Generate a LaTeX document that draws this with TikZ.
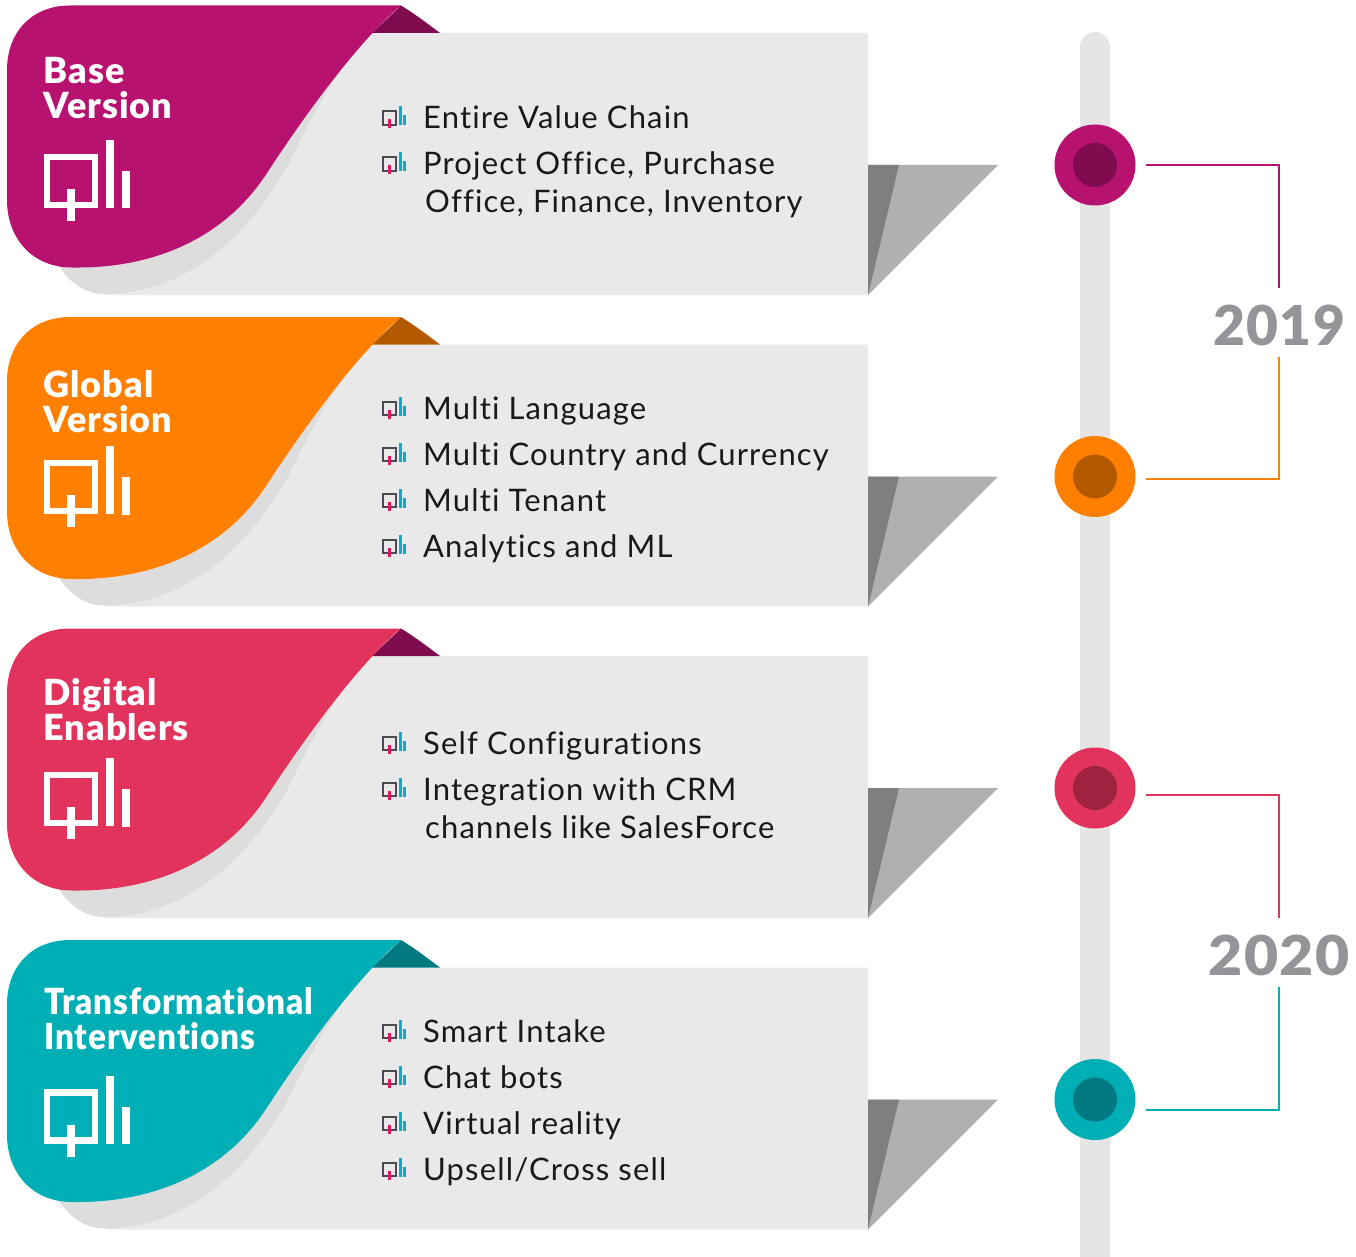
\documentclass[tikz,border=0pt]{standalone}
\usepackage{fontspec}
\setmainfont{Lato}[LetterSpace=3.7,Ligatures=NoCommon]
\newfontfamily\headfont{Lato Black}[LetterSpace=2.6,Ligatures=NoCommon]
\usetikzlibrary{positioning,calc}
\definecolor{basemag}{HTML}{B7126F}
\definecolor{basedark}{HTML}{7F0C4E}
\definecolor{globorg}{HTML}{FF8000}
\definecolor{globdark}{HTML}{B35A00}
\definecolor{digired}{HTML}{E2335C}
\definecolor{digidark}{HTML}{9F2340}
\definecolor{transteal}{HTML}{00AEB5}
\definecolor{transdark}{HTML}{007A80}
\definecolor{cardgray}{HTML}{E9E9E9}
\definecolor{cardshade}{HTML}{DDDDDD}
\definecolor{railgray}{HTML}{E5E5E5}
\definecolor{foldlight}{HTML}{B0B0B0}
\definecolor{folddark}{HTML}{7F7F7F}
\definecolor{yeargray}{HTML}{939598}
\definecolor{iconframe}{HTML}{4A4A55}
\definecolor{iconpin}{HTML}{E5125F}
\definecolor{iconbar}{HTML}{13A8C4}
\tikzset{
  bigicon/.pic={
    \draw[white,line width=6.6pt] (47,157) rectangle (95,205);
    \fill[white] (66.7,189) rectangle (75,221);
    \fill[white] (106,140) rectangle (114,208);
    \fill[white] (122,171) rectangle (130,208.5);
  },
  smallicon/.pic={
    \draw[iconframe,line width=1.7pt] (382.8,-17.2) rectangle (396.2,-3.8);
    \fill[iconpin] (388,-9) rectangle (391,0);
    \fill[iconbar] (399,-22) rectangle (402,-3);
    \fill[iconbar] (403,-13) rectangle (406,-3);
  },
  itemtxt/.style={anchor=base west,inner sep=0pt,font=\fontsize{31}{31}\selectfont,text=black!90},
  headtxt/.style={anchor=west,inner sep=0pt,align=left,text=white,font=\fontsize{36}{35}\selectfont\headfont},
  yeartxt/.style={inner sep=0pt,minimum height=69pt,text height=46pt,text depth=0pt,text=yeargray,font=\fontsize{55}{55}\selectfont\headfont},
  elt/.style={circle,inner sep=0pt,minimum size=81pt},
  eltcore/.style={circle,inner sep=0pt,minimum size=44pt},
  link/.style={line width=2pt}
}
% one grey sheet with its coloured flap
\newcommand{\flapcard}[3]{
  \begin{scope}[shift={(0,#1)}]
    \fill[cardgray] (372,33) -- (868,33) -- (868,295) -- (105,295) -- cycle;
    \fill[foldlight] (868,165) -- (998,165) -- (868,295) -- cycle;
    \fill[folddark] (868,165) -- (899,165) -- (868,295) -- cycle;
    \fill[cardshade] (372,33) .. controls (335,70) and (310,120) .. (287,167)
      .. controls (245,240) and (185,293) .. (105,294)
      .. controls (85,294) and (70,283) .. (58,265) -- (200,200) -- cycle;
    \fill[#3] (401,5.5) .. controls (415,14) and (428,24) .. (440,33) -- (372,33) -- cycle;
    \fill[#2] (70,5.5) -- (401,5.5) .. controls (362,38) and (310,107) .. (267,173)
      .. controls (225,238) and (155,267) .. (80,267.5) -- (72,267.5)
      .. controls (32,267.5) and (7,238) .. (7,200) -- (7,70)
      .. controls (7,32) and (32,5.5) .. (70,5.5) -- cycle;
  \end{scope}
}
\newcommand{\bulletrow}[3]{
  \pic at (0,#2) {smallicon};
  \node[itemtxt] (#1) at (423,#2) {#3};
}
\begin{document}
\begin{tikzpicture}[x=1pt,y=-1pt]
  \useasboundingbox (0,0) rectangle (1356,1257);
  \fill[railgray,rounded corners=15pt] (1080,32) rectangle (1110,1275);
  \flapcard{0}{basemag}{basedark}
  \flapcard{311.5}{globorg}{globdark}
  \flapcard{623}{digired}{basedark}
  \flapcard{934.5}{transteal}{transdark}
  % headings and white marks
  \node[headtxt] (basehead) at (43.5,88) {Base\\Version};
  \node[headtxt] (globhead) at (43.5,402) {Global\\Version};
  \node[headtxt] (digihead) at (43.5,710) {Digital\\Enablers};
  \node[headtxt] (tranhead) at (44,1019) {\scalebox{0.925}[1]{Transformational}\\\scalebox{0.925}[1]{Interventions}};
  \pic at (0,0) {bigicon};
  \pic at (0,306) {bigicon};
  \pic at (0,618) {bigicon};
  \pic at (0,935.5) {bigicon};
  % lists
  \bulletrow{b1}{128.5}{Entire Value Chain}
  \bulletrow{b2}{174.5}{Project Office, Purchase}
  \node[itemtxt] (b3) at (425,212.5) {Office, Finance, Inventory};
  \bulletrow{g1}{419}{Multi Language}
  \bulletrow{g2}{465}{Multi Country and Currency}
  \bulletrow{g3}{511}{Multi Tenant}
  \bulletrow{g4}{557}{Analytics and ML}
  \bulletrow{d1}{754}{Self Configurations}
  \bulletrow{d2}{800}{Integration with CRM}
  \node[itemtxt] (d3) at (425,838) {channels like SalesForce};
  \bulletrow{t1}{1042}{Smart Intake}
  \bulletrow{t2}{1088}{Chat bots}
  \bulletrow{t3}{1134}{Virtual reality}
  \bulletrow{t4}{1180}{Upsell/Cross sell}
  % timeline
  \foreach \n/\yy/\cola/\colb in {1/165/basemag/basedark,2/476.5/globorg/globdark,3/788/digired/digidark,4/1099.5/transteal/transdark}{
    \node[elt,fill=\cola] (dot\n) at (1095,\yy) {};
    \node[eltcore,fill=\colb] (core\n) at (dot\n) {};
  }
  \node[yeartxt] (yr19) at (1279,322.5) {2019};
  \node[yeartxt] (yr20) at (1279,952.5) {\scalebox{1.07}[1]{2020}};
  \coordinate (lk1) at (1146,165);
  \coordinate (lk2) at (1146,479);
  \coordinate (lk3) at (1146,795);
  \coordinate (lk4) at (1146,1109.5);
  \draw[link,draw=basemag] (lk1) -| (yr19.north);
  \draw[link,draw=globorg] (lk2) -| (yr19.south);
  \draw[link,draw=digired] (lk3) -| (yr20.north);
  \draw[link,draw=transteal] (lk4) -| (yr20.south);
\end{tikzpicture}
\end{document}
